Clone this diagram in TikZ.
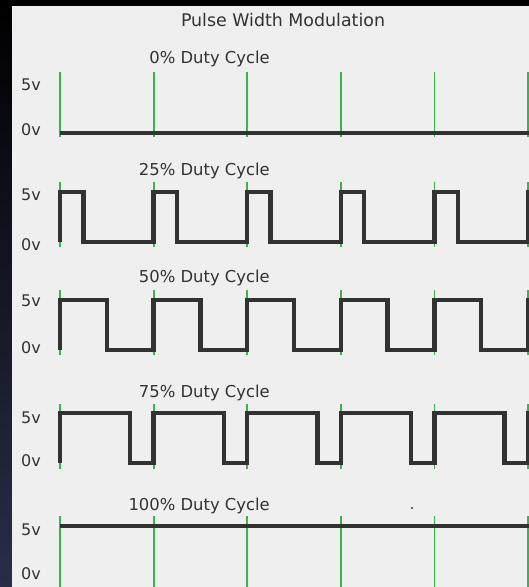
\documentclass[tikz,border=0pt]{standalone}
\usepackage{fontspec}
\setmainfont{DejaVu Sans}
\usetikzlibrary{backgrounds}
\definecolor{panel}{RGB}{239,239,239}
\definecolor{ink}{RGB}{50,50,50}
\definecolor{tick}{RGB}{60,178,74}
\definecolor{navy}{RGB}{42,45,72}
\tikzstyle{lbl}=[anchor=base east,text=ink,inner sep=0pt,font=\fontsize{16.4}{16.4}\selectfont]
\tikzstyle{volt}=[anchor=base east,text=ink,inner sep=0pt,font=\fontsize{16}{16}\selectfont]
\tikzstyle{grid}=[draw=tick,line width=1.8pt]
\tikzstyle{wave}=[draw=ink,line width=4.5pt,line join=miter]

\begin{document}
\begin{tikzpicture}[x=1pt,y=-1pt]
    \useasboundingbox (0,0) rectangle (529,587);
    \shade[top color=black,bottom color=navy] (0,0) rectangle (529,587);
    \fill[panel] (12,6) rectangle (529,587);
    \clip (12,6) rectangle (529,587);
    \node[lbl,anchor=base,font=\fontsize{17.4}{17.4}\selectfont] (title) at (283,26) {Pulse Width Modulation};
    % duty cycle labels
    \node[lbl] (d0) at (270,63) {0\% Duty Cycle};
    \node[lbl] (d25) at (270,175) {25\% Duty Cycle};
    \node[lbl] (d50) at (270,282) {50\% Duty Cycle};
    \node[lbl] (d75) at (270,397) {75\% Duty Cycle};
    \node[lbl] (d100) at (270,510) {100\% Duty Cycle};
    % 5v / 0v
    \foreach \n/\h/\l in {1/90/135,2/200/250,3/306/353,4/423/466,5/535/579} {
        \node[volt] (hi\n) at (41,\h) {5v};
        \node[volt] (lo\n) at (41,\l) {0v};
    }
    % green period marks
    \foreach \t/\b in {72/137,182/247,290/355,404/469,516/595}
        \foreach \i in {0,...,5}
            \draw[grid] (60+93.6*\i,\t) -- (60+93.6*\i,\b);
    % signals
    \draw[wave] (60,133) -- (540,133);
    \foreach \h/\l/\w in {192/242/23.4,300/350/46.8,413/463/70.2}
        \draw[wave] (60,\l) -- (60,\h) -- (60+\w,\h) -- (60+\w,\l)
            \foreach \i in {1,...,5} { -- (60+93.6*\i,\l) -- (60+93.6*\i,\h) -- (60+93.6*\i+\w,\h) -- (60+93.6*\i+\w,\l) };
    \draw[wave] (60,526) -- (540,526);
    \fill[ink] (412,508) circle (1.2);
\end{tikzpicture}
\end{document}
